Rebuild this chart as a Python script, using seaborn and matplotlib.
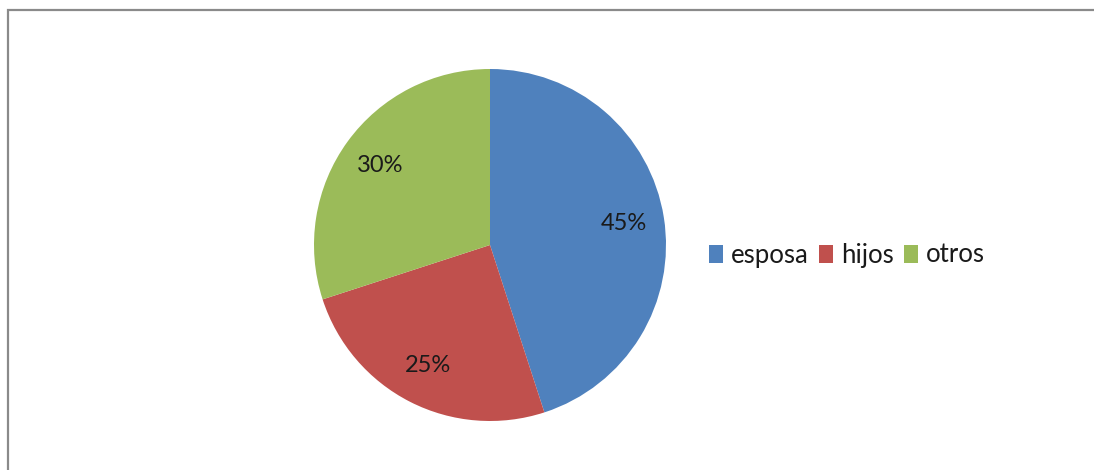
import matplotlib
matplotlib.use("Agg")
import matplotlib.pyplot as plt
import seaborn as sns
from matplotlib.patches import Rectangle

sns.set_theme(style="white")
plt.rcParams["font.family"] = ["Lato", "DejaVu Sans"]

categories = ["esposa", "hijos", "otros"]
shares = [45, 25, 30]
colors = ["#4F81BD", "#C0504D", "#9BBB59"]

W, H = 1094, 470
fig = plt.figure(figsize=(W / 100, H / 100), dpi=100)
fig.patch.set_facecolor("white")

# chart frame (only left and top edges fall inside the canvas)
frame = Rectangle((7.5 / W, -0.1), 1.2, (H - 10.5) / H + 0.1,
                  transform=fig.transFigure, fill=False,
                  edgecolor="#8A8A8A", linewidth=1.6)
fig.patches.append(frame)

cx, cy, r = 490, 245, 176
ax = fig.add_axes([(cx - r) / W, (H - cy - r) / H, 2 * r / W, 2 * r / H])
wedges, texts, autotexts = ax.pie(
    shares, colors=colors, startangle=90, counterclock=False,
    autopct=lambda p: f"{p:.0f}%", pctdistance=0.77,
    wedgeprops=dict(linewidth=0),
    textprops=dict(fontsize=17, color="#1a1a1a"),
)
ax.set_xlim(-1, 1)
ax.set_ylim(-1, 1)
ax.set_aspect("equal")
ax.axis("off")

fig.legend(wedges, categories, loc="center left",
           bbox_to_anchor=(709 / W, (H - 255) / H), ncol=3, frameon=False,
           fontsize=18.5, handlelength=0.55, handleheight=0.7,
           handletextpad=0.3, columnspacing=0.4, borderaxespad=0,
           borderpad=0, labelcolor="#1a1a1a")

fig.savefig("out.png", dpi=100, facecolor="white")
